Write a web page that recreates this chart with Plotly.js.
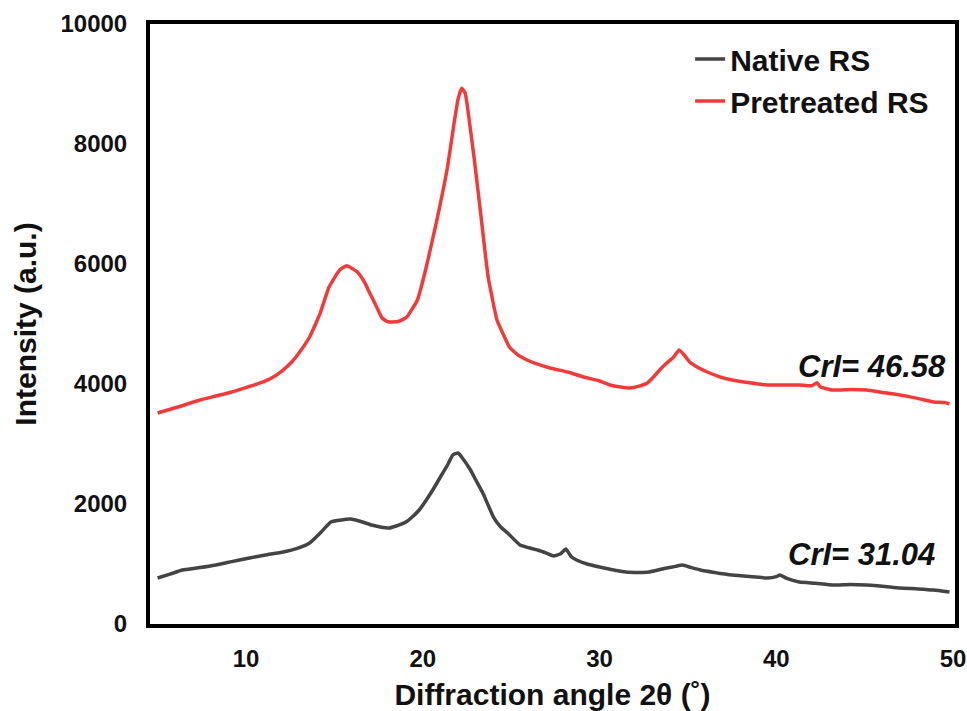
<!DOCTYPE html>
<html>
<head>
<meta charset="utf-8">
<script src="https://cdn.plot.ly/plotly-3.0.1.min.js"></script>
<style>html,body{margin:0;padding:0;background:#fff;}#chart{width:967px;height:711px;}</style>
</head>
<body>
<div id="chart"></div>
<script>
// Pretreated RS (red)
const pretreatedX = [5.0,6.2,7.4,8.3,9.2,10.0,10.8,11.5,12.1,12.6,13.0,13.6,14.2,14.7,15.3,15.7,16.3,16.7,17.0,17.4,17.7,18.0,18.3,18.7,19.1,19.4,19.7,20.2,20.8,21.4,21.8,22.0,22.2,22.4,22.5,22.9,23.3,23.7,24.2,24.6,24.9,25.4,25.9,26.5,27.2,28.2,29.1,30.0,30.6,31.2,31.7,32.2,32.7,33.0,33.4,33.8,34.2,34.5,34.8,35.1,35.6,36.1,36.8,37.5,38.5,39.5,40.5,41.3,42.0,42.3,42.5,43.2,44.2,45.1,46.0,47.0,48.0,48.9,49.5,49.8];
const pretreatedY = [3517,3620,3733,3800,3867,3940,4017,4110,4233,4370,4517,4783,5183,5617,5900,5970,5867,5700,5517,5280,5100,5040,5033,5050,5117,5250,5400,5950,6733,7617,8400,8750,8930,8850,8683,7783,6783,5783,5067,4800,4617,4480,4400,4330,4267,4200,4117,4050,3983,3950,3933,3960,4017,4100,4233,4350,4450,4567,4480,4367,4270,4200,4120,4067,4020,3983,3983,3983,3970,4020,3950,3900,3910,3900,3860,3817,3760,3700,3690,3670];
// Native RS (dark gray)
const nativeX = [5.0,5.7,6.4,7.4,8.3,9.2,10.2,11.1,12.1,12.9,13.6,14.2,14.8,15.3,15.9,16.6,17.1,17.6,18.1,18.5,19.0,19.4,19.8,20.2,20.6,21.0,21.4,21.7,22.0,22.2,22.7,23.0,23.4,24.0,24.4,24.8,25.5,26.0,26.5,27.0,27.4,27.8,28.1,28.4,28.7,29.3,30.0,30.8,31.5,32.2,32.8,33.3,33.8,34.3,34.7,35.2,35.7,36.5,37.5,38.5,39.5,40.0,40.2,40.6,41.3,42.2,43.2,44.2,45.1,46.0,47.0,48.0,48.9,49.8];
const nativeY = [767,830,900,940,983,1040,1100,1150,1200,1260,1350,1517,1700,1730,1750,1700,1650,1617,1600,1633,1690,1783,1900,2067,2250,2450,2650,2817,2850,2783,2567,2400,2183,1783,1620,1517,1317,1270,1233,1180,1133,1170,1250,1120,1067,1000,950,900,867,860,867,900,933,960,983,940,900,860,817,790,767,790,817,760,700,680,650,660,650,630,600,585,567,533];
const seriesNames = ["Native RS", "Pretreated RS"];
const crlLabels = ["CrI= 46.58", "CrI= 31.04"];
const crlPos = [[45.4, 4290], [44.8, 1160]];
const xTicks = [10, 20, 30, 40, 50];
const yTicks = [0, 2000, 4000, 6000, 8000, 10000];

const FONT = "Liberation Sans, Arial, sans-serif";

const traces = [
  {x: nativeX, y: nativeY, name: seriesNames[0], type: "scatter", mode: "lines",
   line: {color: "#444444", width: 3.5, shape: "spline", smoothing: 0.4}, legendgroup: "a"},
  {x: pretreatedX, y: pretreatedY, name: seriesNames[1], type: "scatter", mode: "lines",
   line: {color: "#f23a3a", width: 3.5, shape: "spline", smoothing: 0.4}, legendgroup: "b"}
];

const layout = {
  width: 967, height: 711,
  paper_bgcolor: "#fff", plot_bgcolor: "#fff",
  margin: {l: 150, r: 12, t: 24, b: 87},
  font: {family: FONT, color: "#111", size: 24},
  showlegend: true,
  legend: {x: 0.671, y: 0.985, xanchor: "left", yanchor: "top",
           font: {family: FONT, size: 30, color: "#111", weight: "bold"},
           bgcolor: "rgba(0,0,0,0)", tracegroupgap: 0},
  xaxis: {
    range: [4.57, 50.11], tickvals: xTicks, ticktext: xTicks.map(v => "<b>" + v + "</b>"),
    showgrid: false, zeroline: false, showline: true, mirror: true,
    linecolor: "#000", linewidth: 4, ticks: "", ticklabelstandoff: 10,
    tickfont: {family: FONT, size: 24, color: "#111"},
    title: {text: "<b>Diffraction angle 2θ (˚)</b>", font: {family: FONT, size: 30, color: "#111"}, standoff: 18}
  },
  yaxis: {
    range: [0, 10000], tickvals: yTicks, ticktext: yTicks.map(v => "<b>" + v + "</b>"),
    showgrid: false, zeroline: false, showline: true, mirror: true,
    linecolor: "#000", linewidth: 4, ticks: "", ticklabelstandoff: 14,
    tickfont: {family: FONT, size: 24, color: "#111"},
    title: {text: "<b>Intensity (a.u.)</b>", font: {family: FONT, size: 30, color: "#111"}, standoff: 16}
  },
  annotations: crlLabels.map((t, i) => ({
    x: crlPos[i][0], y: crlPos[i][1], xref: "x", yref: "y",
    text: "<b><i>" + t + "</i></b>", showarrow: false,
    font: {family: FONT, size: 31, color: "#111"}
  }))
};

Plotly.newPlot("chart", traces, layout, {displayModeBar: false, staticPlot: true});
</script>
</body>
</html>
